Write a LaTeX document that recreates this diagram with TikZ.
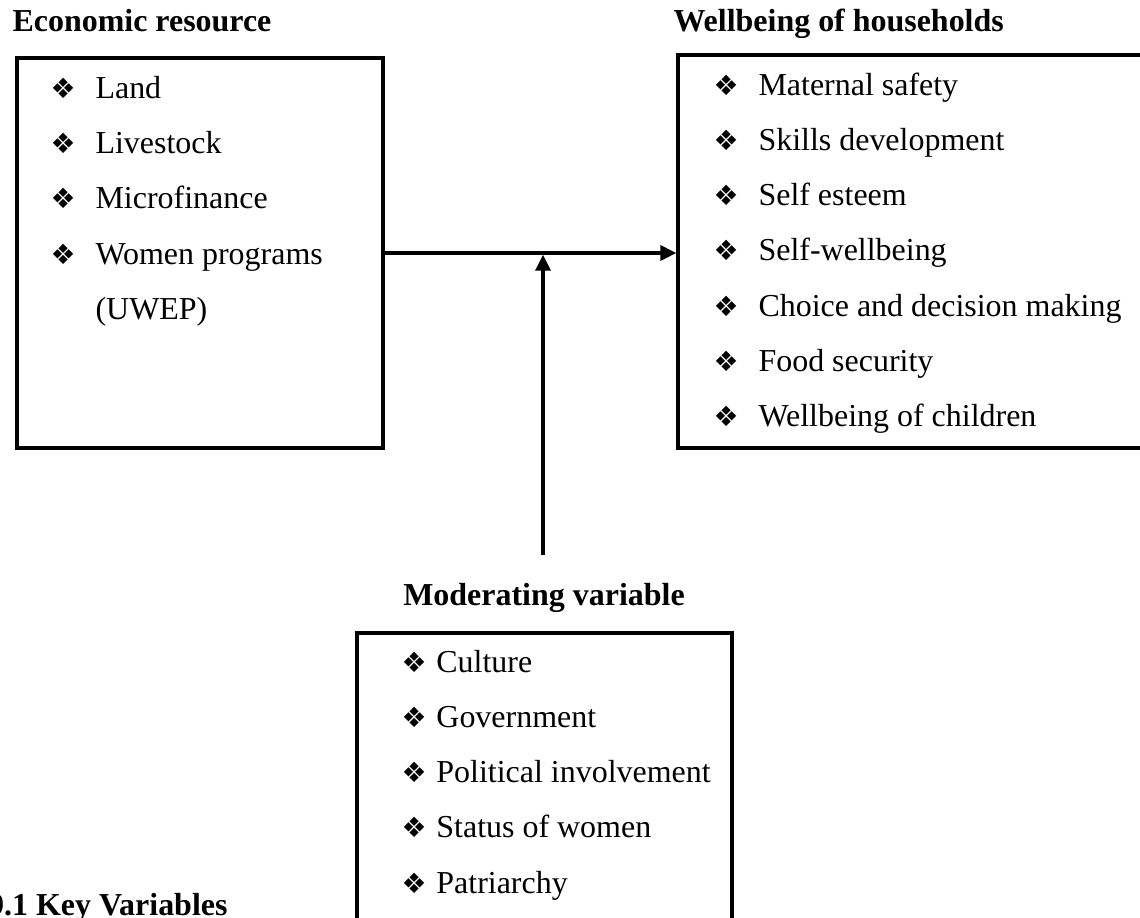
\documentclass[tikz,border=0pt]{standalone}
\usepackage{fontspec}
\setmainfont{Liberation Serif}
\newfontfamily\dingfont{DejaVu Sans}
\usepackage{tikz}
\usetikzlibrary{arrows.meta,positioning,fit}
\tikzset{
  framebox/.style={
    rectangle, draw=black, line width=1.2pt, inner sep=0pt
  },
  headtext/.style={inner sep=0pt, font=\fontsize{12}{14}\selectfont\bfseries},
  itemtext/.style={inner sep=0pt, font=\fontsize{12}{14}\selectfont},
  flowArrow/.style={-{Triangle[length=6pt,width=5.6pt]}, line width=1.2pt, color=black}
}
\newcommand{\dia}[1][16.9pt]{\makebox[#1][l]{{\dingfont\fontsize{10.5}{12}\selectfont ❖}}}

\begin{document}
\begin{tikzpicture}[x=0.3755pt, y=-0.3755pt]
  \useasboundingbox (0,0) rectangle (1140,917);
  % frames
  \node[framebox, fit={(17,58) (383,448)}] (erbox) {};
  \node[framebox, fit={(678,55) (1165,448)}] (wbbox) {};
  \node[framebox, fit={(357,633) (732,945)}] (mvbox) {};
  % headings
  \node[headtext, anchor=base west] (erhead) at (12,32) {Economic resource};
  \node[headtext, anchor=base west] (wbhead) at (673,32) {Wellbeing of households};
  \node[headtext, anchor=base] (mvhead) at (544,605) {Moderating variable};
  \node[headtext, anchor=base east] (keyvar) at (228,915) {9.1 Key Variables};
  % economic resource
  \node[itemtext, anchor=base west] (er1) at (50,98) {\dia Land};
  \node[itemtext, below=20.8pt of er1.base west, anchor=base west] (er2)
    {\dia Livestock};
  \node[itemtext, below=20.8pt of er2.base west, anchor=base west] (er3)
    {\dia Microfinance};
  \node[itemtext, below=20.8pt of er3.base west, anchor=base west] (er4)
    {\dia Women programs};
  \node[itemtext, below=20.8pt of er4.base west, anchor=base west] (er5)
    {\hspace*{16.9pt}(UWEP)};
  % wellbeing of households
  \node[itemtext, anchor=base west] (wb1) at (713,95) {\dia Maternal safety};
  \node[itemtext, below=20.75pt of wb1.base west, anchor=base west] (wb2)
    {\dia Skills development};
  \node[itemtext, below=20.75pt of wb2.base west, anchor=base west] (wb3)
    {\dia Self esteem};
  \node[itemtext, below=20.75pt of wb3.base west, anchor=base west] (wb4)
    {\dia Self-wellbeing};
  \node[itemtext, below=20.75pt of wb4.base west, anchor=base west] (wb5)
    {\dia Choice and decision making};
  \node[itemtext, below=20.75pt of wb5.base west, anchor=base west] (wb6)
    {\dia Food security};
  \node[itemtext, below=20.75pt of wb6.base west, anchor=base west] (wb7)
    {\dia Wellbeing of children};
  % moderating variable
  \node[itemtext, anchor=base west] (mv1) at (401,672) {\dia[13.1pt]Culture};
  \node[itemtext, below=20.75pt of mv1.base west, anchor=base west] (mv2)
    {\dia[13.1pt]Government};
  \node[itemtext, below=20.75pt of mv2.base west, anchor=base west] (mv3)
    {\dia[13.1pt]Political involvement};
  \node[itemtext, below=20.75pt of mv3.base west, anchor=base west] (mv4)
    {\dia[13.1pt]Status of women};
  \node[itemtext, below=20.75pt of mv4.base west, anchor=base west] (mv5)
    {\dia[13.1pt]Patriarchy};
  % arrows
  \coordinate (mvfoot) at (543,555);
  \draw[flowArrow] (erbox.east) -- (erbox.east -| wbbox.west);
  \draw[flowArrow] (mvfoot) -- ([yshift=-0.6pt]mvfoot |- erbox.east);
\end{tikzpicture}
\end{document}
